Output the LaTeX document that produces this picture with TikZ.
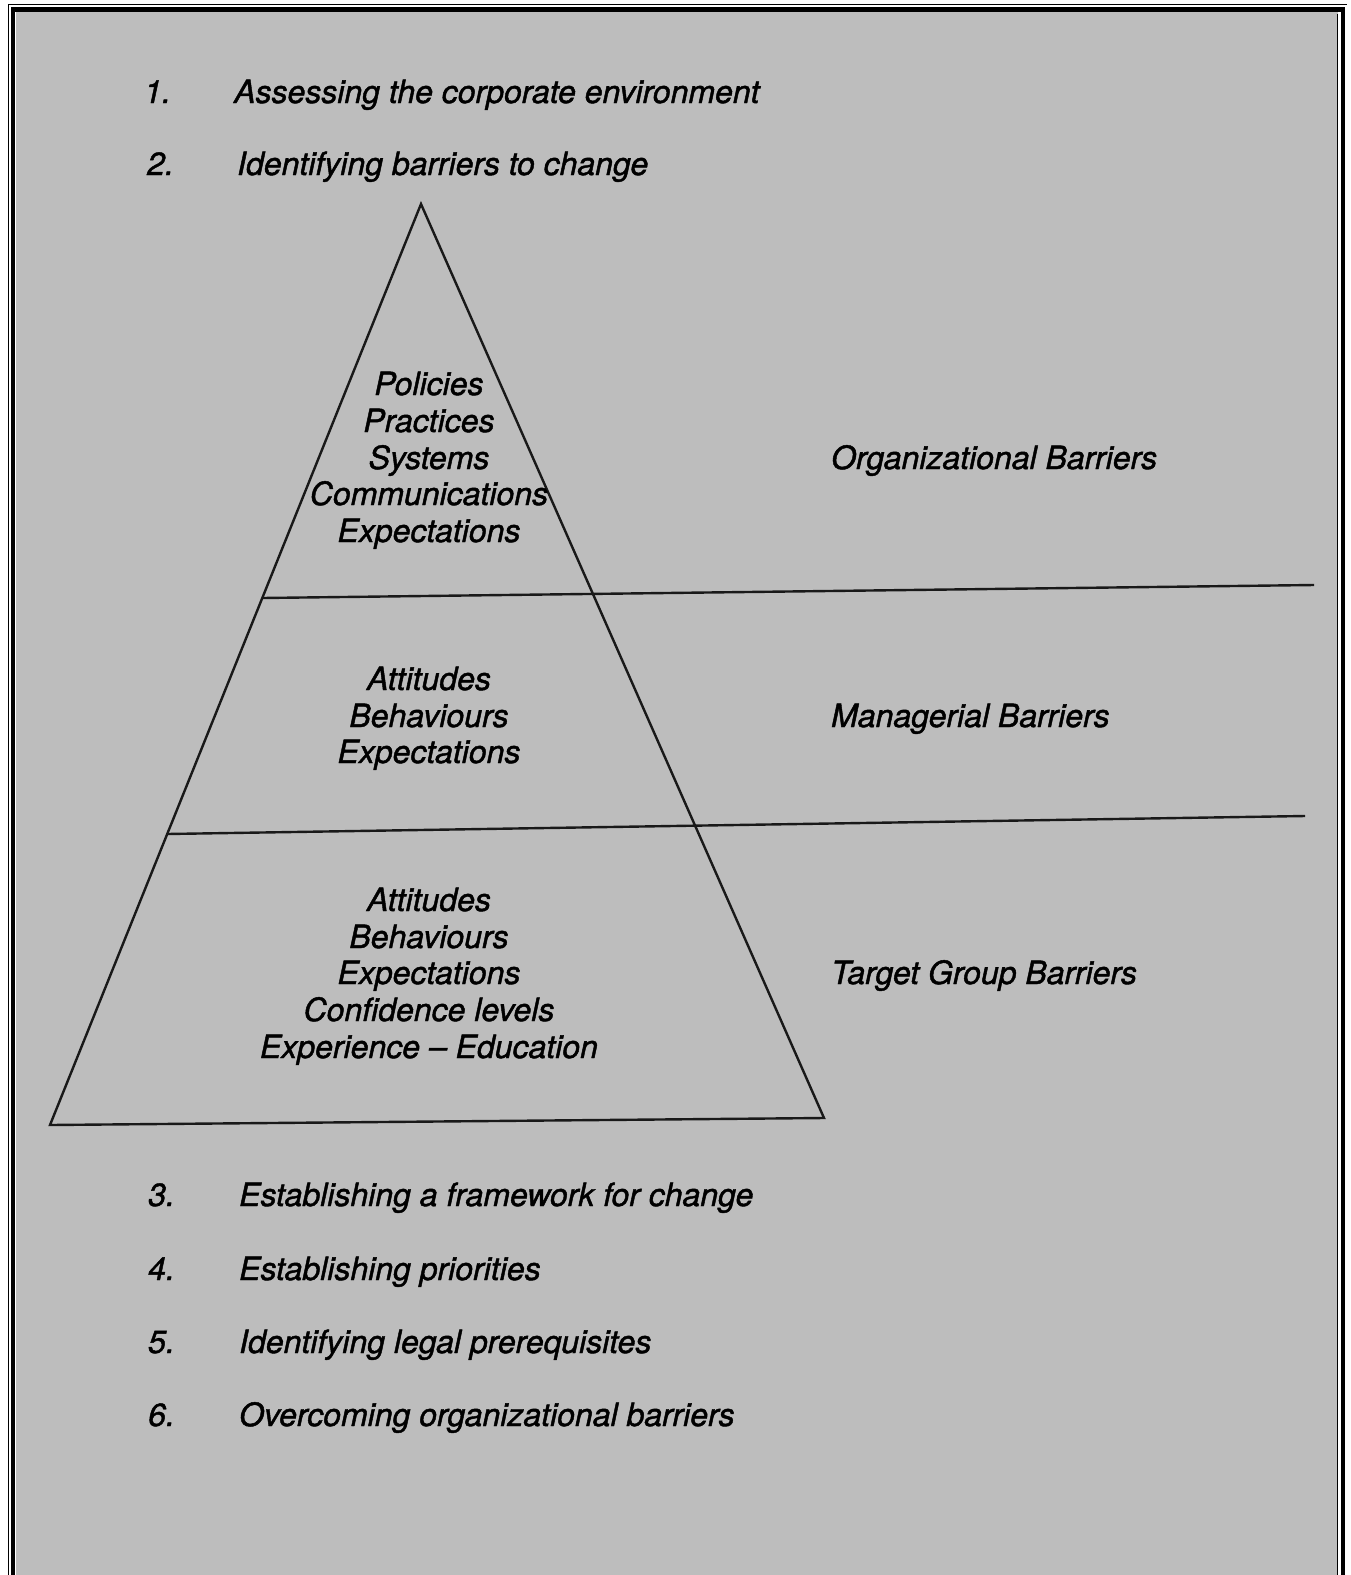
\documentclass[tikz,border=0pt]{standalone}
\usepackage{fontspec}
\setmainfont{TeX Gyre Heros}[ItalicFeatures={FakeBold=1.4}]
\begin{document}
\begin{tikzpicture}[x=1pt,y=-1pt,
  txt/.style={font=\fontsize{32}{36}\selectfont\itshape, inner sep=0pt},
  item/.style={txt, anchor=base west},
  mid/.style={txt, anchor=base},
  rule/.style={line width=2.4pt, black!90}]
  \useasboundingbox (0,0) rectangle (1351,1575);
  % page and shaded panel
  \fill[white] (0,0) rectangle (1351,1575);
  \fill[black!26] (16,12) rectangle (1338,1575);
  % frame: heavy rule with a fine rule outside it
  \draw[line width=4.5pt] (13,1575) -- (13,9.5) -- (1343,9.5) -- (1343,1575);
  \draw[line width=1.2pt] (8.5,1575) -- (8.5,4.5) -- (1346.5,4.5);
  \draw[line width=1.2pt] (1337.5,14) -- (1337.5,1575);

  % pyramid corners and band boundaries
  \coordinate (apex) at (421,204);
  \coordinate (bl) at (50,1125);
  \coordinate (br) at (824,1118);
  \coordinate (a1) at (262,598);
  \coordinate (a2) at (1314,585);
  \coordinate (b1) at (167,834);
  \coordinate (b2) at (1305,816);
  \draw[rule, line join=miter] (apex) -- (bl) -- (br) -- cycle;
  \draw[rule] (a1) -- (a2);
  \draw[rule] (b1) -- (b2);

  % numbered steps
  \node[item] (n1) at (144,103) {1.};
  \node[item] (s1) at (234,103) {Assessing the corporate environment};
  \node[item] (n2) at (147,175) {2.};
  \node[item] (s2) at (237,175) {Identifying barriers to change};
  \node[item] (n3) at (148,1206) {3.};
  \node[item] (s3) at (239,1206) {Establishing a framework for change};
  \node[item] (n4) at (148,1280) {4.};
  \node[item] (s4) at (239,1280) {Establishing priorities};
  \node[item] (n5) at (148,1353) {5.};
  \node[item] (s5) at (239,1353) {Identifying legal prerequisites};
  \node[item] (n6) at (148,1426) {6.};
  \node[item] (s6) at (239,1426) {Overcoming organizational barriers};

  % organizational band
  \node[mid] (o1) at (429,395) {Policies};
  \node[mid] (o2) at (429,432) {Practices};
  \node[mid] (o3) at (429,469) {Systems};
  \node[mid] (o4) at (429,505) {Communications};
  \node[mid] (o5) at (429,542) {Expectations};
  \node[item] (ob) at (831,469) {Organizational Barriers};

  % managerial band
  \node[mid] (m1) at (429,690) {Attitudes};
  \node[mid] (m2) at (429,727) {Behaviours};
  \node[mid] (m3) at (429,763) {Expectations};
  \node[item] (mb) at (831,727) {Managerial Barriers};

  % target group band
  \node[mid] (t1) at (429,911) {Attitudes};
  \node[mid] (t2) at (429,948) {Behaviours};
  \node[mid] (t3) at (429,984) {Expectations};
  \node[mid] (t4) at (429,1021) {Confidence levels};
  \node[mid] (t5) at (429,1058) {Experience -- Education};
  \node[item] (tb) at (831,984) {Target Group Barriers};
\end{tikzpicture}
\end{document}
